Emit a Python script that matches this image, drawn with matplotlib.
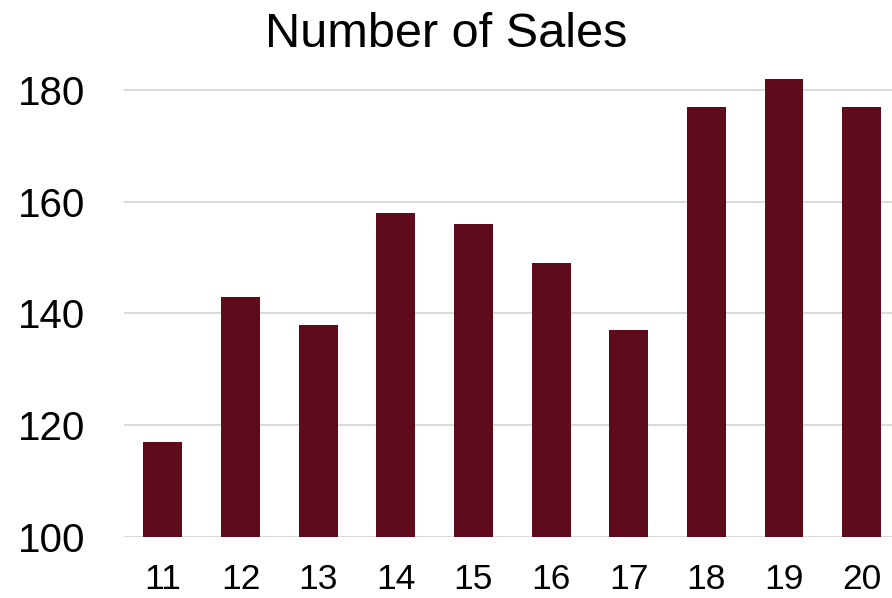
import numpy as np
import matplotlib.pyplot as plt

plt.rcParams['font.family'] = ['Liberation Sans', 'DejaVu Sans']

# data
categories = ['11', '12', '13', '14', '15', '16', '17', '18', '19', '20']
sales = [117, 143, 138, 158, 156, 149, 137, 177, 182, 177]
y_ticks = [100, 120, 140, 160, 180]

bar_color = '#5e0b1c'
grid_color = '#d9d9d9'

fig = plt.figure(figsize=(8.92, 5.98), dpi=100)
ax = fig.add_axes([0.139, 0.1025, 0.861, 0.7654])

x = np.arange(len(categories))
ax.bar(x, sales, width=0.5, color=bar_color, zorder=3)

ax.set_xlim(-0.5, 9.39)
ax.set_ylim(100, 182)
ax.set_yticks(y_ticks)
ax.set_xticks(x)
ax.set_xticklabels(categories)

# grid lines
ax.grid(axis='y', color=grid_color, linewidth=1.4, zorder=0)
ax.set_axisbelow(True)
for s in ax.spines.values():
    s.set_visible(False)

ax.tick_params(axis='y', length=0, labelsize=29, pad=28)
ax.tick_params(axis='x', length=0, labelsize=25.5, pad=19)

fig.text(0.5, 1 - 47 / 598, 'Number of Sales', ha='center', va='baseline', fontsize=35)

fig.savefig('out.png', dpi=100)
